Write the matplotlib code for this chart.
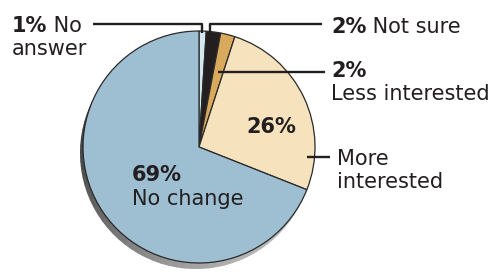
import numpy as np
import matplotlib.pyplot as plt
from matplotlib.patches import Wedge

# dữ liệu
labels = ["No answer", "Not sure", "Less interested", "More interested", "No change"]
values = [1, 2, 2, 26, 69]
pcts = ["1%", "2%", "2%", "26%", "69%"]
colors = ["#d6e7f0", "#231f20", "#d9a95c", "#f6e3be", "#9ebfd2"]

H = 272
cx, cy, R = 199, 147, 116  # tâm và bán kính (pixel)


def Y(y):
    return H - y


fig = plt.figure(figsize=(4.95, 2.72), dpi=100)
ax = fig.add_axes([0, 0, 1, 1])

# bóng đổ phía dưới bên trái
for a in range(0, 360, 4):
    g = 0.22 + 0.5 * (0.5 + 0.5 * np.cos(np.radians(a + 45)))
    ax.add_patch(Wedge((cx - 3, Y(cy) - 6), R, a, a + 4.5,
                       color=(g, g, g), lw=0, zorder=0))

ax.pie(values, colors=colors, startangle=90, counterclock=False,
       center=(cx, Y(cy)), radius=R, frame=True,
       wedgeprops=dict(edgecolor="#2a2a2a", linewidth=0.9))
ax.set_xlim(0, 495)
ax.set_ylim(0, H)
ax.set_aspect("equal")
ax.axis("off")

fs = 15
tc = "#231f20"
lk = dict(color="#231f20", lw=1.7, solid_capstyle="butt")

# đường dẫn
ax.plot([93, 202, 202], [Y(24), Y(24), Y(33)], **lk)
ax.plot([210, 210, 322], [Y(33), Y(24), Y(24)], **lk)
ax.plot([218, 325], [Y(72), Y(72)], **lk)
ax.plot([307, 330], [Y(157), Y(157)], **lk)


def label(x, y, bold, rest):
    t = ax.text(x, Y(y), bold, fontsize=fs, fontweight="bold", color=tc,
                va="baseline", ha="left")
    if rest:
        ax.annotate(rest, xy=(1, 0), xycoords=t, fontsize=fs, color=tc,
                    va="bottom", ha="left")
    return t


label(12, 32, pcts[0], " " + "No")
ax.text(12, Y(55), "answer", fontsize=fs, color=tc, va="baseline")

label(331, 33, pcts[1], " " + labels[1])

label(331, 77, pcts[2], "")
ax.text(331, Y(100), labels[2], fontsize=fs, color=tc, va="baseline")

label(246, 133, pcts[3], "")
ax.text(337, Y(165), "More", fontsize=fs, color=tc, va="baseline")
ax.text(337, Y(188), "interested", fontsize=fs, color=tc, va="baseline")

label(132, 181, pcts[4], "")
ax.text(132, Y(205), labels[4], fontsize=fs, color=tc, va="baseline")

fig.savefig("out.png", dpi=100)
